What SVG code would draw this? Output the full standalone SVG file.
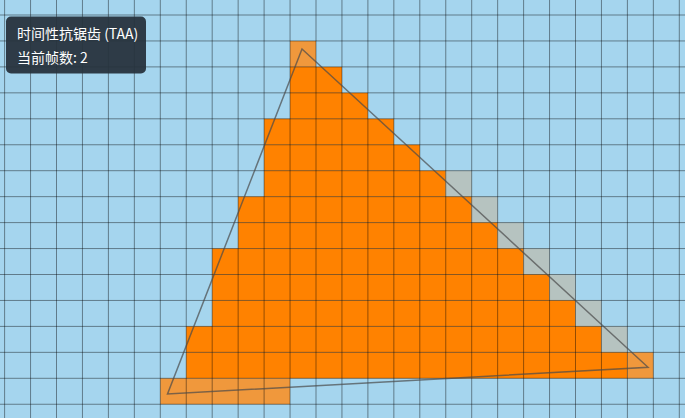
<svg xmlns="http://www.w3.org/2000/svg" width="685" height="418" viewBox="0 0 685 418">
<style>
.o{fill:#ff8200}
.l{fill:#f0983c}
.g{fill:#b6c3c0}
.grid{stroke:#000;stroke-opacity:0.42;stroke-width:1;fill:none}
.tri{fill:none;stroke:#4a4a4a;stroke-opacity:0.7;stroke-width:1.5}
.t{font-family:"Noto Sans CJK SC","Noto Sans",sans-serif;font-size:14px;fill:#fff}
</style>
<rect width="685" height="418" fill="#a5d5ee"/>
<g id="cells">
<rect class="l" x="290.05" y="40.95" width="25.95" height="25.95"/>
<rect class="o" x="290.05" y="66.9" width="51.9" height="25.95"/>
<rect class="o" x="290.05" y="92.85" width="77.85" height="25.95"/>
<rect class="o" x="264.1" y="118.8" width="129.75" height="25.95"/>
<rect class="o" x="264.1" y="144.75" width="155.7" height="25.95"/>
<rect class="o" x="264.1" y="170.7" width="181.65" height="25.95"/>
<rect class="g" x="445.75" y="170.7" width="25.95" height="25.95"/>
<rect class="o" x="238.15" y="196.65" width="233.55" height="25.95"/>
<rect class="g" x="471.7" y="196.65" width="25.95" height="25.95"/>
<rect class="o" x="238.15" y="222.6" width="259.5" height="25.95"/>
<rect class="g" x="497.65" y="222.6" width="25.95" height="25.95"/>
<rect class="o" x="212.2" y="248.55" width="311.4" height="25.95"/>
<rect class="g" x="523.6" y="248.55" width="25.95" height="25.95"/>
<rect class="o" x="212.2" y="274.5" width="337.35" height="25.95"/>
<rect class="g" x="549.55" y="274.5" width="25.95" height="25.95"/>
<rect class="o" x="212.2" y="300.45" width="363.3" height="25.95"/>
<rect class="g" x="575.5" y="300.45" width="25.95" height="25.95"/>
<rect class="o" x="186.25" y="326.4" width="415.2" height="25.95"/>
<rect class="g" x="601.45" y="326.4" width="25.95" height="25.95"/>
<rect class="o" x="186.25" y="352.35" width="441.15" height="25.95"/>
<rect class="l" x="627.4" y="352.35" width="25.95" height="25.95"/>
<rect class="l" x="160.3" y="378.3" width="129.75" height="25.95"/>
</g>
<g id="grid">
<path class="grid" d="M4.6 0V418M30.55 0V418M56.5 0V418M82.45 0V418M108.4 0V418M134.35 0V418M160.3 0V418M186.25 0V418M212.2 0V418M238.15 0V418M264.1 0V418M290.05 0V418M316 0V418M341.95 0V418M367.9 0V418M393.85 0V418M419.8 0V418M445.75 0V418M471.7 0V418M497.65 0V418M523.6 0V418M549.55 0V418M575.5 0V418M601.45 0V418M627.4 0V418M653.35 0V418M679.3 0V418
M0 15H685M0 40.95H685M0 66.9H685M0 92.85H685M0 118.8H685M0 144.75H685M0 170.7H685M0 196.65H685M0 222.6H685M0 248.55H685M0 274.5H685M0 300.45H685M0 326.4H685M0 352.35H685M0 378.3H685M0 404.25H685"/>
</g>
<g id="connectors">
<polygon class="tri" points="302,49 648,367.3 167.5,394"/>
</g>
<g id="info">
<rect x="6" y="16.5" width="140" height="57" rx="5" fill="#27333d" fill-opacity="0.95"/>
<text class="t" x="17" y="38.5">时间性抗锯齿 (TAA)</text>
<text class="t" x="17" y="63">当前帧数: 2</text>
</g>
</svg>
